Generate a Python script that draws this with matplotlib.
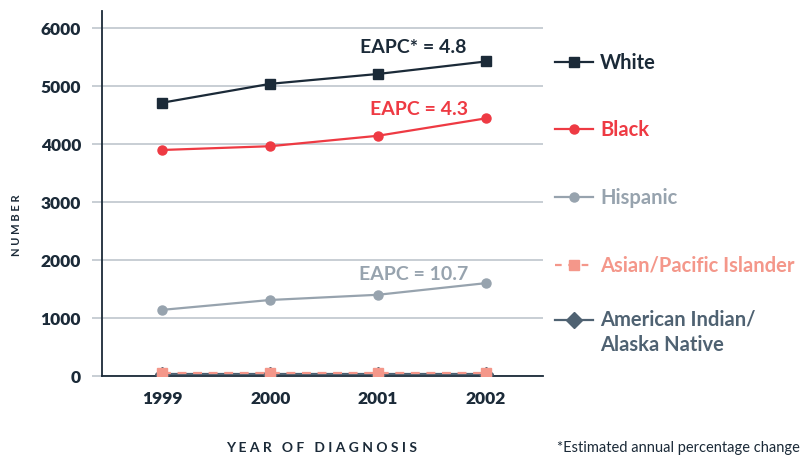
import matplotlib
matplotlib.use("Agg")
import matplotlib.pyplot as plt
from matplotlib.lines import Line2D

plt.rcParams['font.family'] = ['Lato', 'DejaVu Sans']

years = [1999, 2000, 2001, 2002]
white = [4710, 5035, 5205, 5420]
black = [3895, 3960, 4140, 4440]
hispanic = [1140, 1310, 1400, 1600]
asian = [45, 45, 45, 45]
aian = [30, 30, 30, 30]
yticks = [0, 1000, 2000, 3000, 4000, 5000, 6000]

C_WHITE = '#1b2a38'
C_BLACK = '#ee3a43'
C_HISP = '#97a3ae'
C_ASIAN = '#f4978a'
C_AIAN = '#4f6272'
GRID = '#b9c1c9'

fig = plt.figure(figsize=(8.06, 4.56), dpi=100)
ax = fig.add_axes([102/806, 1-377/456, (543-102)/806, (377-12)/456])

ax.plot(years, aian, color=C_AIAN, lw=1.6, marker='D', ms=7, zorder=3)
ax.plot(years, asian, color=C_ASIAN, lw=1.6, ls=(0, (4, 3)), marker='s', ms=7, zorder=4)
ax.plot(years, hispanic, color=C_HISP, lw=1.6, marker='o', ms=6.5, zorder=3)
ax.plot(years, black, color=C_BLACK, lw=1.6, marker='o', ms=6.5, zorder=3)
ax.plot(years, white, color=C_WHITE, lw=1.6, marker='s', ms=7, zorder=3)

ax.set_xlim(1998.44, 2002.53)
ax.set_ylim(0, 6290)
ax.set_yticks(yticks)
ax.set_yticklabels([str(v) for v in yticks])
ax.set_xticks(years)
ax.set_xticklabels([str(y) for y in years])
for spine in ['top', 'right']:
    ax.spines[spine].set_visible(False)
for spine in ['left', 'bottom']:
    ax.spines[spine].set_color(C_WHITE)
    ax.spines[spine].set_linewidth(1.3)
ax.grid(axis='y', color=GRID, lw=1.1)
ax.set_axisbelow(True)
ax.tick_params(axis='y', length=7, color=GRID, width=1.1, pad=8,
               labelsize=12.5, labelcolor=C_WHITE)
ax.tick_params(axis='x', length=0, pad=10, labelsize=12.5, labelcolor=C_WHITE)
for lab in ax.get_xticklabels() + ax.get_yticklabels():
    lab.set_fontweight('heavy')

ax.text(2001.33, 5680, 'EAPC* = 4.8', color=C_WHITE, fontsize=14,
        fontweight='bold', ha='center', va='center')
ax.text(2001.38, 4610, 'EAPC = 4.3', color=C_BLACK, fontsize=14,
        fontweight='bold', ha='center', va='center')
ax.text(2001.33, 1770, 'EAPC = 10.7', color=C_HISP, fontsize=14,
        fontweight='bold', ha='center', va='center')

fig.text(17/806, 1-225/456, 'N U M B E R', rotation=90, fontsize=8,
         color=C_WHITE, ha='center', va='center', fontweight='bold')
fig.text(322/806, 1-448/456, 'Y E A R   O F   D I A G N O S I S', fontsize=10,
         color=C_WHITE, ha='center', va='center', fontweight='bold')
fig.text(557/806, 1-448/456, '*Estimated annual percentage change', fontsize=10.5,
         color=C_WHITE, ha='left', va='center')

legend = [
    ('White', C_WHITE, 's', '-', 63, 7),
    ('Black', C_BLACK, 'o', '-', 130, 6.5),
    ('Hispanic', C_HISP, 'o', '-', 198, 6.5),
    ('Asian/Pacific Islander', C_ASIAN, 's', (0, (3, 3)), 266, 7),
    ('American Indian/\nAlaska Native', C_AIAN, 'D', '-', 321, 8),
]
for name, col, mk, ls, ypix, ms in legend:
    yy = 1 - ypix/456
    fig.add_artist(Line2D([555/806, 593/806], [yy, yy], color=col, lw=1.6, ls=ls,
                          transform=fig.transFigure))
    fig.add_artist(Line2D([574/806], [yy], color=col, marker=mk, ms=ms,
                          transform=fig.transFigure))
    if '\n' in name:
        fig.text(600/806, yy + 11/456, name, color=col, fontsize=14.5, fontweight='bold',
                 ha='left', va='top', linespacing=1.3)
    else:
        fig.text(600/806, yy, name, color=col, fontsize=14.5, fontweight='bold',
                 ha='left', va='center')

fig.savefig('out.png', dpi=100)
